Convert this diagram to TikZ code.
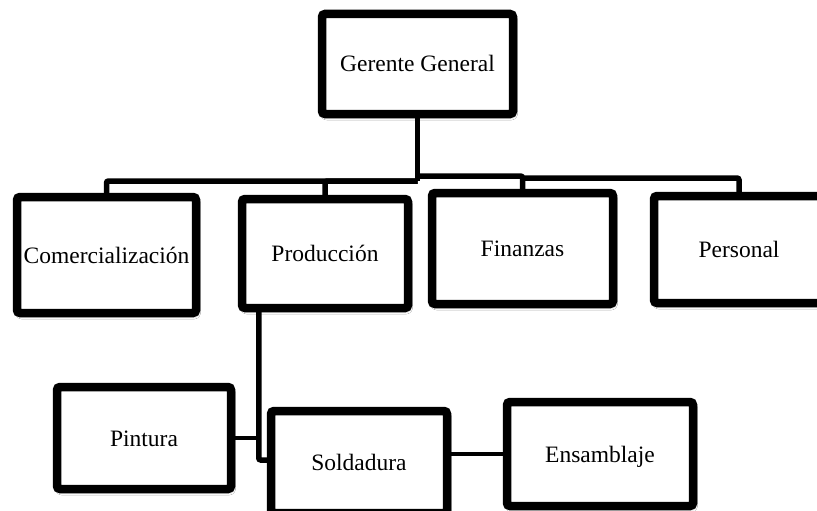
\documentclass[tikz,border=0pt]{standalone}
\usepackage{fontspec}
\setmainfont{Liberation Serif}
\usetikzlibrary{shadows.blur,calc}
\begin{document}
\begin{tikzpicture}[x=1pt,y=-1pt,
  orgbox/.style={draw=black, fill=white, line width=8.5pt, rounded corners=3pt,
    align=center, inner sep=0pt, text height=16pt, text depth=0pt,
    font=\fontsize{23.5}{28}\selectfont,
    blur shadow={shadow xshift=1.5pt, shadow yshift=-3pt, shadow blur radius=3pt,
      shadow blur steps=6, shadow opacity=30}},
  link/.style={draw=black, line width=5.5pt, rounded corners=2pt},
  thinlink/.style={draw=black, line width=4.5pt}]
  \useasboundingbox (0,0) rectangle (817,511);
  \fill[white] (0,0) rectangle (817,511);
  \clip (0,0) rectangle (817,511);

  % top level
  \node[orgbox, minimum width=191, minimum height=100] (ger) at (417.5,64) {Gerente General};

  % departments
  \node[orgbox, minimum width=179, minimum height=116] (com) at (106.5,255) {Comercialización};
  \node[orgbox, minimum width=166, minimum height=109] (prod) at (325,253.5) {Producción};
  \node[orgbox, minimum width=181, minimum height=111] (fin) at (522.5,248.5) {Finanzas};
  \node[orgbox, minimum width=170, minimum height=107] (pers) at (739,249.5) {Personal};

  % production sections
  \node[orgbox, minimum width=174, minimum height=102] (pin) at (144,438) {Pintura};
  \node[orgbox, minimum width=176, minimum height=102] (sold) at (359,462) {Soldadura};
  \node[orgbox, minimum width=186, minimum height=104] (ens) at (600,454) {Ensamblaje};

  % connector hubs below the general manager
  \coordinate (hubL) at (417.5,181);
  \coordinate (hubR) at (417.5,176);
  \coordinate (hubP) at (524,178);
  \coordinate (pdrop) at ($(prod.south west)+(21,-2)$);

  % connectors
  \draw[link] (ger.south) -- (hubL);
  \draw[link] (hubL) -| (com.north);
  \draw[link] (hubL) -| (prod.north);
  \draw[link] (hubR) -| (fin.north);
  \draw[link] (hubP) -| (pers.north);
  \draw[link] (pdrop) |- ($(sold.west)+(2,-2)$);
  \draw[thinlink] (pin.east) -- (pin.east -| pdrop);
  \draw[thinlink] (ens.west) -- (ens.west -| sold.east);
\end{tikzpicture}
\end{document}
